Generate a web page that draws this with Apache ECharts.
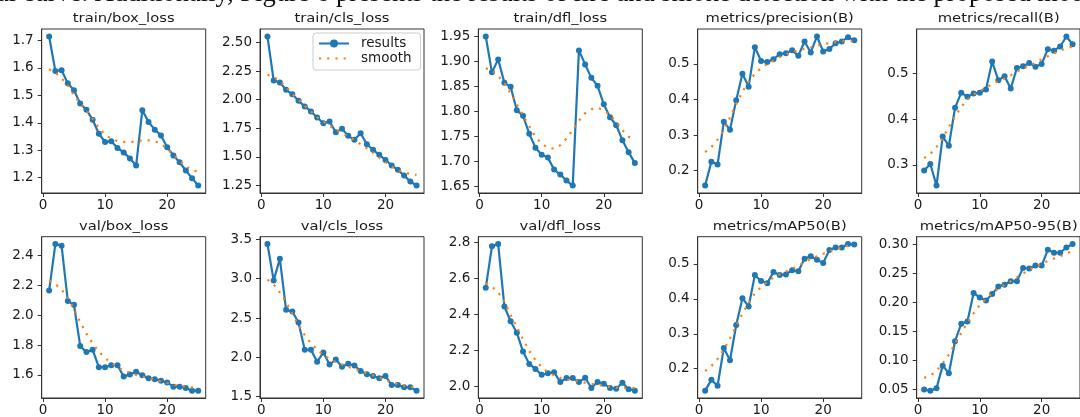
<!DOCTYPE html>
<html><head><meta charset="utf-8">
<script src="https://cdn.jsdelivr.net/npm/echarts@6/dist/echarts.min.js"></script>
<style>html,body{margin:0;padding:0;background:#fff;overflow:hidden}#c{width:1080px;height:417px}</style>
</head><body><div id="c"></div>
<script>
const epochs = [1,2,3,4,5,6,7,8,9,10,11,12,13,14,15,16,17,18,19,20,21,22,23,24,25];
const titles = ['train/box_loss','train/cls_loss','train/dfl_loss','metrics/precision(B)','metrics/recall(B)',
  'val/box_loss','val/cls_loss','val/dfl_loss','metrics/mAP50(B)','metrics/mAP50-95(B)'];
const headerText = 'al curve. Additionally, Figure 6 presents the results of fire and smoke detection with the proposed model';

const trainBox  = [1.715,1.589,1.592,1.544,1.519,1.470,1.448,1.411,1.360,1.330,1.333,1.308,1.292,1.270,1.244,1.446,1.403,1.375,1.354,1.311,1.281,1.256,1.226,1.198,1.171];
const trainBoxS = [1.595,1.583,1.562,1.537,1.500,1.470,1.446,1.415,1.381,1.357,1.342,1.333,1.330,1.330,1.332,1.336,1.336,1.333,1.323,1.305,1.284,1.262,1.242,1.226,1.223];
const trainCls  = [2.552,2.168,2.150,2.086,2.048,1.990,1.941,1.897,1.844,1.795,1.809,1.716,1.745,1.684,1.649,1.707,1.611,1.562,1.518,1.474,1.425,1.387,1.337,1.285,1.250];
const trainClsS = [2.217,2.197,2.165,2.110,2.051,1.999,1.946,1.897,1.847,1.809,1.772,1.737,1.707,1.678,1.649,1.611,1.576,1.538,1.495,1.454,1.416,1.387,1.364,1.352,1.343];
const trainDfl  = [1.950,1.878,1.904,1.857,1.849,1.802,1.791,1.755,1.727,1.713,1.707,1.683,1.673,1.661,1.651,1.922,1.894,1.867,1.851,1.814,1.788,1.772,1.742,1.718,1.696];
const trainDflS = [1.886,1.882,1.871,1.856,1.836,1.814,1.792,1.770,1.749,1.735,1.727,1.725,1.732,1.745,1.763,1.781,1.796,1.804,1.807,1.802,1.792,1.779,1.762,1.749,1.742];
const precision  = [0.158,0.225,0.217,0.337,0.315,0.398,0.472,0.436,0.547,0.508,0.505,0.513,0.527,0.530,0.538,0.523,0.563,0.532,0.577,0.535,0.542,0.558,0.563,0.575,0.566];
const precisionS = [0.252,0.266,0.287,0.313,0.349,0.387,0.422,0.450,0.472,0.488,0.500,0.509,0.519,0.527,0.533,0.538,0.542,0.546,0.551,0.556,0.558,0.561,0.563,0.565,0.563];
const recall  = [0.288,0.302,0.255,0.362,0.342,0.425,0.458,0.449,0.456,0.458,0.465,0.526,0.485,0.494,0.467,0.512,0.516,0.523,0.515,0.521,0.553,0.550,0.559,0.581,0.564];
const recallS = [0.315,0.324,0.339,0.359,0.383,0.406,0.427,0.443,0.454,0.462,0.469,0.477,0.483,0.489,0.496,0.504,0.511,0.517,0.523,0.531,0.538,0.544,0.550,0.555,0.559];
const valBox  = [2.165,2.476,2.465,2.095,2.069,1.794,1.753,1.768,1.652,1.652,1.665,1.665,1.589,1.604,1.622,1.598,1.578,1.572,1.561,1.550,1.522,1.522,1.513,1.495,1.495];
const valBoxS = [2.230,2.208,2.171,2.117,2.040,1.953,1.877,1.811,1.757,1.713,1.681,1.652,1.631,1.615,1.600,1.589,1.578,1.567,1.556,1.546,1.535,1.528,1.522,1.517,1.515];
const valCls  = [3.442,2.979,3.254,2.604,2.583,2.442,2.096,2.096,1.942,2.062,1.908,1.971,1.879,1.917,1.896,1.825,1.783,1.763,1.733,1.763,1.646,1.646,1.617,1.617,1.575];
const valClsS = [2.990,2.929,2.825,2.700,2.554,2.408,2.283,2.179,2.096,2.033,1.979,1.938,1.908,1.879,1.854,1.825,1.796,1.771,1.742,1.713,1.679,1.658,1.638,1.625,1.617];
const valDfl  = [2.547,2.778,2.791,2.443,2.361,2.297,2.192,2.123,2.095,2.062,2.071,2.077,2.022,2.044,2.044,2.022,2.046,1.989,2.022,2.013,1.989,1.985,2.018,1.982,1.974];
const valDflS = [2.571,2.553,2.522,2.470,2.397,2.328,2.260,2.196,2.145,2.104,2.077,2.059,2.046,2.037,2.031,2.026,2.018,2.013,2.007,2.000,1.995,1.991,1.989,1.989,1.989];
const map50  = [0.137,0.168,0.151,0.259,0.224,0.325,0.402,0.378,0.468,0.451,0.445,0.477,0.468,0.470,0.482,0.479,0.515,0.522,0.512,0.503,0.540,0.547,0.547,0.557,0.556];
const map50S = [0.193,0.207,0.228,0.254,0.287,0.322,0.358,0.388,0.416,0.434,0.449,0.461,0.470,0.478,0.486,0.495,0.505,0.514,0.522,0.529,0.536,0.542,0.547,0.552,0.553];
const map5095  = [0.050,0.048,0.052,0.091,0.078,0.133,0.163,0.167,0.216,0.208,0.203,0.214,0.227,0.230,0.236,0.236,0.259,0.258,0.263,0.263,0.290,0.285,0.285,0.294,0.300];
const map5095S = [0.070,0.074,0.082,0.095,0.110,0.129,0.147,0.165,0.181,0.195,0.206,0.216,0.223,0.230,0.236,0.243,0.249,0.256,0.261,0.266,0.271,0.275,0.279,0.284,0.288];

const xTicks = [0,10,20];
const yTicks = [
  [1.2,1.3,1.4,1.5,1.6,1.7],
  [1.25,1.50,1.75,2.00,2.25,2.50],
  [1.65,1.70,1.75,1.80,1.85,1.90,1.95],
  [0.2,0.3,0.4,0.5],
  [0.3,0.4,0.5],
  [1.6,1.8,2.0,2.2,2.4],
  [1.5,2.0,2.5,3.0,3.5],
  [2.0,2.2,2.4,2.6,2.8],
  [0.2,0.3,0.4,0.5],
  [0.05,0.10,0.15,0.20,0.25,0.30]
];
const yDecimals = [1,2,2,1,1,1,1,1,1,2];
const resultsSets = [trainBox,trainCls,trainDfl,precision,recall,valBox,valCls,valDfl,map50,map5095];
const smoothSets  = [trainBoxS,trainClsS,trainDflS,precisionS,recallS,valBoxS,valClsS,valDflS,map50S,map5095S];

// layout
const colLeft = [41.7, 260, 478.3, 697.7, 916.7];
const rowTop = [29, 236.7];
const plotW = 164;
const plotH = [164, 163.5];
const BLUE = '#1f77b4', ORANGE = '#ff7f0e', INK = '#1a1a1a', SPINE = '#333';
const FONT = 'DejaVu Sans';

const grids = [], xAxes = [], yAxes = [], series = [], graphics = [];
for (let i = 0; i < 10; i++) {
  const r = Math.floor(i / 5), c = i % 5;
  grids.push({left: colLeft[c], top: rowTop[r], width: plotW, height: plotH[r],
    show: true, borderColor: SPINE, borderWidth: 1, backgroundColor: 'rgba(0,0,0,0)'});
  const all = resultsSets[i].concat(smoothSets[i]);
  const lo = Math.min(...all), hi = Math.max(...all), pad = (hi - lo) * 0.05;
  xAxes.push({gridIndex: i, type: 'value', min: -0.2, max: 26.2,
    axisLine: {show: true, onZero: false, lineStyle: {color: SPINE, width: 1}},
    axisTick: {show: true, length: 4, customValues: xTicks, lineStyle: {color: SPINE}},
    axisLabel: {customValues: xTicks, margin: 5, fontSize: 13.5, color: INK, fontFamily: FONT},
    splitLine: {show: false}});
  const dec = yDecimals[i];
  yAxes.push({gridIndex: i, type: 'value', min: lo - pad, max: hi + pad,
    axisLine: {show: true, onZero: false, lineStyle: {color: SPINE, width: 1}},
    axisTick: {show: true, length: 4, customValues: yTicks[i], lineStyle: {color: SPINE}},
    axisLabel: {customValues: yTicks[i], margin: 8, fontSize: 13.5, color: INK, fontFamily: FONT,
      formatter: v => Number(v).toFixed(dec)},
    splitLine: {show: false}});
  series.push({type: 'line', name: 'results', xAxisIndex: i, yAxisIndex: i,
    data: epochs.map((e, k) => [e, resultsSets[i][k]]),
    symbol: 'circle', symbolSize: 6, showSymbol: true, clip: false,
    lineStyle: {color: BLUE, width: 2.2}, itemStyle: {color: BLUE}, z: 2, silent: true});
  series.push({type: 'line', name: 'smooth', xAxisIndex: i, yAxisIndex: i,
    data: epochs.map((e, k) => [e, smoothSets[i][k]]),
    symbol: 'none', showSymbol: false, clip: false,
    lineStyle: {color: ORANGE, width: 2.2, type: [2.2, 6]}, itemStyle: {color: ORANGE}, z: 3, silent: true});
  graphics.push({type: 'text', x: colLeft[c] + plotW / 2, y: rowTop[r] - 10, scaleX: 1.18,
    style: {text: titles[i], fontSize: 12.5, fontFamily: FONT, fill: INK,
      align: 'center', textAlign: 'center', verticalAlign: 'middle', textVerticalAlign: 'middle'}});
}
graphics.push({type: 'text', x: -3, y: -5.5,
  style: {text: headerText, fontSize: 26.5, fontFamily: '"Liberation Serif", serif', fill: '#111',
    align: 'left', textAlign: 'left', verticalAlign: 'middle', textVerticalAlign: 'middle'}});

const chart = echarts.init(document.getElementById('c'), null, {renderer: 'canvas'});
chart.setOption({
  animation: false,
  backgroundColor: '#fff',
  textStyle: {fontFamily: FONT},
  grid: grids, xAxis: xAxes, yAxis: yAxes, series: series,
  legend: {data: [{name: 'results'}, {name: 'smooth', itemStyle: {opacity: 0}}],
    orient: 'vertical', left: 313, top: 33,
    itemWidth: 30, itemHeight: 10, itemGap: 0, padding: [3, 9, 4, 5],
    borderColor: '#cccccc', borderWidth: 1, borderRadius: 3, backgroundColor: 'rgba(255,255,255,0.8)',
    selectedMode: false,
    textStyle: {fontSize: 13.5, lineHeight: 15, color: INK, fontFamily: FONT, padding: [0, 0, 0, 7]}},
  graphic: {elements: graphics}
});
</script></body></html>
